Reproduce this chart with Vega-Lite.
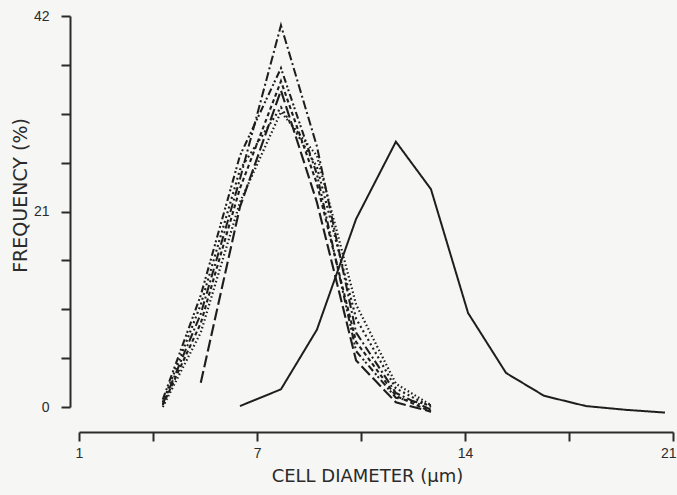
{
  "$schema": "https://vega.github.io/schema/vega-lite/v6.json",
  "width": 594,
  "height": 391,
  "autosize": "none",
  "padding": {"left": 79, "top": 16, "right": 4, "bottom": 88},
  "background": "#f6f6f4",
  "config": {
    "view": {"stroke": null},
    "axis": {"grid": false, "domainColor": "#2b2b2b", "tickColor": "#2b2b2b", "labelColor": "#2b2b2b", "titleColor": "#2b2b2b", "labelFont": "Liberation Sans", "titleFont": "DejaVu Sans", "titleFontWeight": "normal", "domainWidth": 2, "tickWidth": 2, "tickSize": 9, "labelFontSize": 14}
  },
  "data": {
    "values": [
      {"series": "solid", "d": 6.42, "f": 0.1},
      {"series": "solid", "d": 7.80, "f": 1.9},
      {"series": "solid", "d": 9.01, "f": 8.3},
      {"series": "solid", "d": 10.33, "f": 20.2},
      {"series": "solid", "d": 11.67, "f": 28.5},
      {"series": "solid", "d": 12.85, "f": 23.4},
      {"series": "solid", "d": 14.10, "f": 10.1},
      {"series": "solid", "d": 15.38, "f": 3.65},
      {"series": "solid", "d": 16.66, "f": 1.2},
      {"series": "solid", "d": 18.07, "f": 0.1},
      {"series": "solid", "d": 19.40, "f": -0.3},
      {"series": "solid", "d": 20.73, "f": -0.6},

      {"series": "L1", "d": 3.82, "f": 0.3},
      {"series": "L1", "d": 5.10, "f": 10},
      {"series": "L1", "d": 6.42, "f": 24.5},
      {"series": "L1", "d": 7.80, "f": 41},
      {"series": "L1", "d": 9.01, "f": 28},
      {"series": "L1", "d": 10.33, "f": 8},
      {"series": "L1", "d": 11.67, "f": 1.5},
      {"series": "L1", "d": 12.85, "f": -0.3},

      {"series": "L2", "d": 3.82, "f": 0.8},
      {"series": "L2", "d": 5.10, "f": 12},
      {"series": "L2", "d": 6.42, "f": 27},
      {"series": "L2", "d": 7.80, "f": 36.4},
      {"series": "L2", "d": 9.01, "f": 25},
      {"series": "L2", "d": 10.33, "f": 6},
      {"series": "L2", "d": 11.67, "f": 1.0},
      {"series": "L2", "d": 12.85, "f": 0.2},

      {"series": "L3", "d": 3.82, "f": 0.2},
      {"series": "L3", "d": 5.10, "f": 9},
      {"series": "L3", "d": 6.42, "f": 23.5},
      {"series": "L3", "d": 7.80, "f": 35},
      {"series": "L3", "d": 9.01, "f": 24},
      {"series": "L3", "d": 10.33, "f": 7},
      {"series": "L3", "d": 11.67, "f": 1.2},
      {"series": "L3", "d": 12.85, "f": -0.5},

      {"series": "L4", "d": 5.10, "f": 2.6},
      {"series": "L4", "d": 6.42, "f": 21.5},
      {"series": "L4", "d": 7.80, "f": 34},
      {"series": "L4", "d": 9.01, "f": 22},
      {"series": "L4", "d": 10.33, "f": 5},
      {"series": "L4", "d": 11.67, "f": 0.5},
      {"series": "L4", "d": 12.85, "f": -0.5},

      {"series": "L5", "d": 3.82, "f": 0.5},
      {"series": "L5", "d": 5.10, "f": 11},
      {"series": "L5", "d": 6.42, "f": 25.5},
      {"series": "L5", "d": 7.80, "f": 32.2},
      {"series": "L5", "d": 9.01, "f": 25.8},
      {"series": "L5", "d": 10.33, "f": 9.5},
      {"series": "L5", "d": 11.67, "f": 2},
      {"series": "L5", "d": 12.85, "f": 0},

      {"series": "L6", "d": 3.82, "f": 0},
      {"series": "L6", "d": 5.10, "f": 8},
      {"series": "L6", "d": 6.42, "f": 22},
      {"series": "L6", "d": 7.80, "f": 31.7},
      {"series": "L6", "d": 9.01, "f": 27},
      {"series": "L6", "d": 10.33, "f": 11},
      {"series": "L6", "d": 11.67, "f": 2.5},
      {"series": "L6", "d": 12.85, "f": 0.2}
    ]
  },
  "mark": {"type": "line", "color": "#1e1e1e", "clip": false},
  "encoding": {
    "x": {
      "field": "d", "type": "quantitative",
      "scale": {"domain": [1, 21], "nice": false, "zero": false},
      "axis": {
        "title": "CELL DIAMETER (μm)", "titleFontSize": 18,
        "offset": 25, "values": [1, 3.5, 7, 10.5, 14, 17.5, 21],
        "labelExpr": "datum.value == 1 || datum.value == 7 || datum.value == 14 || datum.value == 21 ? datum.label : ''",
        "labelAlign": {"condition": {"test": "datum.value == 21", "value": "right"}, "value": "center"},
        "labelOffset": {"condition": {"test": "datum.value == 21", "value": 3}, "value": 0},
        "labelPadding": 5, "labelFlush": false, "labelOverlap": false,
        "titleX": 288, "titleY": 35, "titleAnchor": null
      }
    },
    "y": {
      "field": "f", "type": "quantitative",
      "scale": {"domain": [0, 42], "nice": false},
      "axis": {
        "title": "FREQUENCY (%)", "titleFontSize": 19,
        "offset": 9, "values": [0, 5.25, 10.5, 15.75, 21, 26.25, 31.5, 36.75, 42],
        "labelExpr": "datum.value == 0 || datum.value == 21 || datum.value == 42 ? datum.label : ''",
        "labelPadding": 12, "labelFlush": false, "labelOverlap": false,
        "titleX": -40, "titleY": 179
      }
    },
    "strokeDash": {
      "field": "series", "type": "nominal", "legend": null,
      "scale": {"domain": ["solid", "L1", "L2", "L3", "L4", "L5", "L6"],
        "range": [[1, 0], [9, 3, 2, 3], [7, 3, 2, 2, 2, 3], [4, 3], [12, 4], [2, 3], [1.5, 2.5]]}
    },
    "strokeWidth": {
      "field": "series", "type": "nominal", "legend": null,
      "scale": {"domain": ["solid", "L1", "L2", "L3", "L4", "L5", "L6"],
        "range": [2, 2.2, 2.2, 3, 2.2, 2.2, 1.8]}
    }
  }
}
